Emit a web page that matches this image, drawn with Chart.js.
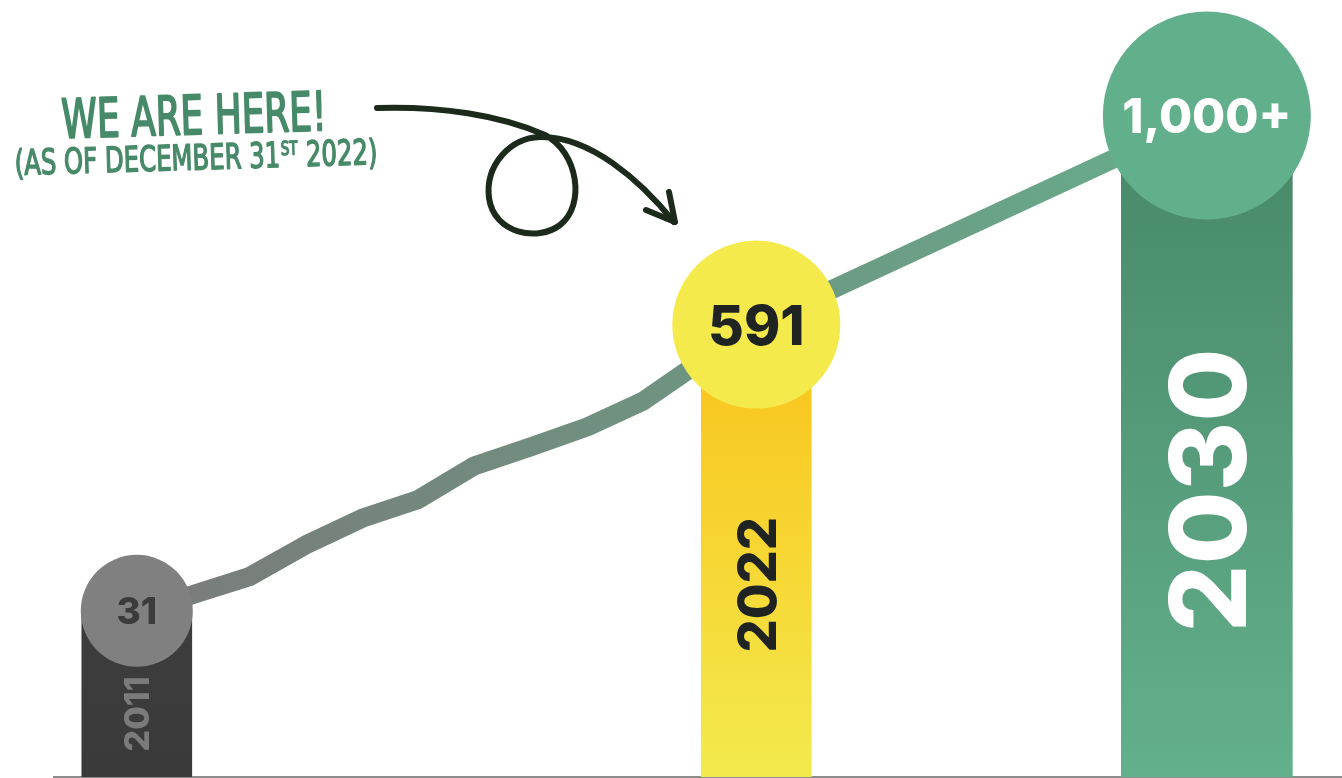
<!DOCTYPE html>
<html>
<head>
<meta charset="utf-8">
<title>We are here</title>
<script src="https://cdn.jsdelivr.net/npm/chart.js@4.4.1/dist/chart.umd.min.js"></script>
<style>
  html, body { margin: 0; padding: 0; background: #fff; }
  #wrap { width: 1342px; height: 778px; }
</style>
</head>
<body>
<div id="wrap"><canvas id="growth_chart" width="1342" height="778"></canvas></div>
<script>
// yearly count
var years = [2011, 2012, 2013, 2014, 2015, 2016, 2017, 2018, 2019, 2020, 2021, 2022];
var counts = [31, 63, 98, 160, 212, 249, 315, 352, 391, 442, 518, 591];
// the goal
var goalYear = 2030;
var goalCount = 1000;
// what the bubbles say
var milestoneLabels = ["31", "591", "1,000+"];

var milestoneYears = [years[0], years[years.length - 1], goalYear];
var milestoneCounts = [counts[0], counts[counts.length - 1], goalCount];

// looks
var barColors = [["#3d3d3d", "#3a3a3a"], ["#fac21a", "#f3ea4d"], ["#478767", "#63b08c"]];
var barWidths = [110, 110, 171];
var bubbleColors = ["#808080", "#f4ea4b", "#62af8b"];
var bubbleSizes = [56, 84, 104];
var valueColors = ["#3b3b3b", "#1f2422", "#ffffff"];
var valueSizes = [37, 55, 48];
var yearColors = ["#7b7b7b", "#1f2422", "#ffffff"];
var yearSizes = [34, 52, 106];
var FONT = "Inter, 'Open Sans', sans-serif";

var Y_MIN = -294, Y_MAX = 1226;

function barGradient(k) {
    return function (c) {
        var chart = c.chart, area = chart.chartArea;
        if (!area) return barColors[k][1];
        var top = chart.scales.y.getPixelForValue(milestoneCounts[k]);
        var g = chart.ctx.createLinearGradient(0, top, 0, area.bottom);
        g.addColorStop(0, barColors[k][0]);
        g.addColorStop(1, barColors[k][1]);
        return g;
    };
}

var linePoints = years.map(function (y, i) { return {x: y, y: counts[i]}; });
linePoints.push({x: goalYear, y: goalCount});

var datasets = [];

datasets.push({
    type: 'scatter',
    data: milestoneYears.map(function (y, i) { return {x: y, y: milestoneCounts[i]}; }),
    pointRadius: bubbleSizes,
    pointHoverRadius: bubbleSizes,
    pointBackgroundColor: bubbleColors,
    pointBorderWidth: 0,
    clip: false,
    order: 0
});

datasets.push({
    type: 'line',
    data: linePoints,
    borderWidth: 19,
    tension: 0,
    pointRadius: 0,
    fill: false,
    borderJoinStyle: 'round',
    borderCapStyle: 'round',
    borderColor: function (c) {
        var chart = c.chart;
        if (!chart.chartArea) return "#729482";
        var x = chart.scales.x;
        var g = chart.ctx.createLinearGradient(x.getPixelForValue(years[0]), 0, x.getPixelForValue(goalYear), 0);
        g.addColorStop(0, "#7a7a7a");
        g.addColorStop(0.5, "#6f9381");
        g.addColorStop(1, "#66ad8b");
        return g;
    },
    order: 1
});

milestoneYears.forEach(function (yr, k) {
    datasets.push({
        type: 'bar',
        data: [{x: yr, y: milestoneCounts[k]}],
        base: Y_MIN,
        barThickness: barWidths[k],
        grouped: false,
        borderWidth: 0,
        backgroundColor: barGradient(k),
        order: 2
    });
});

function centreText(ctx, text, x, y) {
    // put the middle of the digits' cap height on y
    var m = ctx.measureText("0");
    ctx.fillText(text, x, y + m.actualBoundingBoxAscent / 2);
}

var milestoneText = {
    id: 'milestoneText',
    afterDatasetsDraw: function (chart) {
        var ctx = chart.ctx;
        var bottom = chart.chartArea.bottom;
        var pts = chart.getDatasetMeta(0).data;
        ctx.save();
        ctx.textAlign = 'center';
        ctx.textBaseline = 'alphabetic';
        pts.forEach(function (pt, i) {
            ctx.font = "800 " + valueSizes[i] + "px " + FONT;
            ctx.fillStyle = valueColors[i];
            centreText(ctx, milestoneLabels[i], pt.x, pt.y);

            var mid = (pt.y + bubbleSizes[i] + bottom) / 2 - 8;
            ctx.save();
            ctx.translate(pt.x, mid);
            ctx.rotate(-Math.PI / 2);
            ctx.font = "800 " + yearSizes[i] + "px " + FONT;
            ctx.fillStyle = yearColors[i];
            centreText(ctx, String(milestoneYears[i]), 0, 0);
            ctx.restore();
        });
        ctx.restore();
    }
};

function drawNote(ctx) {
    var green = "#478a69";
    var hand = "'Liberation Sans Narrow', 'DejaVu Sans Condensed', sans-serif";
    ctx.save();
    ctx.fillStyle = green;
    ctx.strokeStyle = green;
    ctx.lineJoin = 'round';

    // first line
    ctx.save();
    ctx.translate(62, 138);
    ctx.rotate(-0.03);
    ctx.font = "400 54px " + hand;
    var t1 = "WE ARE HERE!";
    var w1 = ctx.measureText(t1).width;
    ctx.scale(265 / w1, 1);
    ctx.lineWidth = 2;
    ctx.fillText(t1, 0, 0);
    ctx.strokeText(t1, 0, 0);
    ctx.restore();

    // second line with superscript
    ctx.save();
    ctx.translate(15, 175);
    ctx.rotate(-0.03);
    var a = "(AS OF DECEMBER 31", s = "ST", b = " 2022)";
    ctx.font = "400 35px " + hand;
    var wa = ctx.measureText(a).width, wb = ctx.measureText(b).width;
    ctx.font = "400 19px " + hand;
    var ws = ctx.measureText(s).width;
    ctx.scale(363 / (wa + ws + wb + 2), 1);
    ctx.lineWidth = 1.4;
    ctx.font = "400 35px " + hand;
    ctx.fillText(a, 0, 0);
    ctx.strokeText(a, 0, 0);
    ctx.fillText(b, wa + ws + 2, 0);
    ctx.strokeText(b, wa + ws + 2, 0);
    ctx.font = "400 19px " + hand;
    ctx.fillText(s, wa + 1, -12);
    ctx.strokeText(s, wa + 1, -12);
    ctx.restore();

    // curly arrow
    ctx.strokeStyle = "#1b2a1b";
    ctx.lineWidth = 6;
    ctx.lineCap = 'round';
    ctx.beginPath();
    ctx.moveTo(377, 108);
    ctx.bezierCurveTo(440, 106, 500, 115, 545, 135);
    ctx.bezierCurveTo(578, 152, 586, 205, 560, 225);
    ctx.bezierCurveTo(538, 242, 494, 234, 489, 198);
    ctx.bezierCurveTo(485, 165, 510, 138, 540, 137);
    ctx.bezierCurveTo(590, 136, 640, 180, 674, 222);
    ctx.stroke();
    ctx.beginPath();
    ctx.moveTo(669, 192);
    ctx.lineTo(675, 222);
    ctx.lineTo(646, 210);
    ctx.stroke();
    ctx.restore();
}

var note = {
    id: 'note',
    afterDraw: function (chart) { drawNote(chart.ctx); }
};

new Chart(document.getElementById("growth_chart"), {
    type: 'bar',
    data: { datasets: datasets },
    options: {
        responsive: false,
        animation: false,
        events: [],
        layout: { autoPadding: false, padding: { left: 54, right: 0, top: 0, bottom: 1 } },
        plugins: { legend: { display: false }, tooltip: { enabled: false } },
        scales: {
            x: {
                type: 'linear',
                min: 2009.53,
                max: 2032.4,
                offset: false,
                grid: { display: false, drawTicks: false },
                ticks: { display: false },
                border: { display: true, color: "#8c8c8c", width: 2 }
            },
            y: { display: false, min: Y_MIN, max: Y_MAX }
        }
    },
    plugins: [milestoneText, note]
});
</script>
</body>
</html>
